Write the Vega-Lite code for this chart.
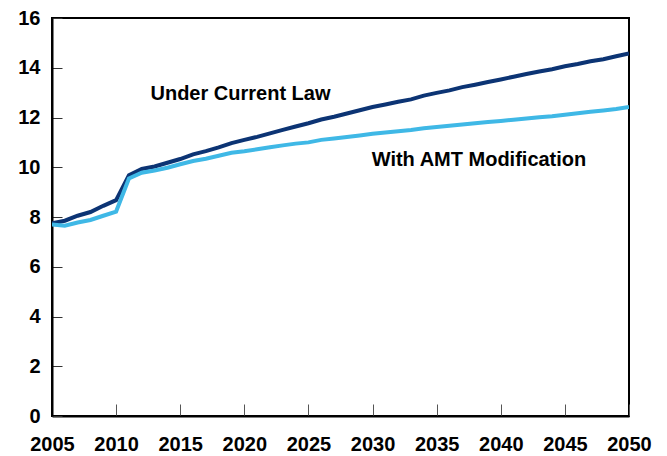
{
  "$schema": "https://vega.github.io/schema/vega-lite/v6.json",
  "width": 577,
  "height": 398,
  "autosize": {"type": "none"},
  "padding": {"left": 52, "top": 18, "right": 38, "bottom": 40},
  "background": "white",
  "config": {
    "view": {"stroke": "black", "strokeWidth": 2},
    "font": "Liberation Sans"
  },
  "datasets": {
    "series": [
      {"year": 2005, "value": 7.75, "series": "Under Current Law"},
      {"year": 2006, "value": 7.85, "series": "Under Current Law"},
      {"year": 2007, "value": 8.05, "series": "Under Current Law"},
      {"year": 2008, "value": 8.2, "series": "Under Current Law"},
      {"year": 2009, "value": 8.45, "series": "Under Current Law"},
      {"year": 2010, "value": 8.68, "series": "Under Current Law"},
      {"year": 2011, "value": 9.68, "series": "Under Current Law"},
      {"year": 2012, "value": 9.93, "series": "Under Current Law"},
      {"year": 2013, "value": 10.03, "series": "Under Current Law"},
      {"year": 2014, "value": 10.18, "series": "Under Current Law"},
      {"year": 2015, "value": 10.33, "series": "Under Current Law"},
      {"year": 2016, "value": 10.52, "series": "Under Current Law"},
      {"year": 2017, "value": 10.65, "series": "Under Current Law"},
      {"year": 2018, "value": 10.8, "series": "Under Current Law"},
      {"year": 2019, "value": 10.97, "series": "Under Current Law"},
      {"year": 2020, "value": 11.1, "series": "Under Current Law"},
      {"year": 2021, "value": 11.22, "series": "Under Current Law"},
      {"year": 2022, "value": 11.36, "series": "Under Current Law"},
      {"year": 2023, "value": 11.5, "series": "Under Current Law"},
      {"year": 2024, "value": 11.64, "series": "Under Current Law"},
      {"year": 2025, "value": 11.77, "series": "Under Current Law"},
      {"year": 2026, "value": 11.92, "series": "Under Current Law"},
      {"year": 2027, "value": 12.03, "series": "Under Current Law"},
      {"year": 2028, "value": 12.16, "series": "Under Current Law"},
      {"year": 2029, "value": 12.29, "series": "Under Current Law"},
      {"year": 2030, "value": 12.42, "series": "Under Current Law"},
      {"year": 2031, "value": 12.52, "series": "Under Current Law"},
      {"year": 2032, "value": 12.63, "series": "Under Current Law"},
      {"year": 2033, "value": 12.73, "series": "Under Current Law"},
      {"year": 2034, "value": 12.88, "series": "Under Current Law"},
      {"year": 2035, "value": 12.99, "series": "Under Current Law"},
      {"year": 2036, "value": 13.09, "series": "Under Current Law"},
      {"year": 2037, "value": 13.22, "series": "Under Current Law"},
      {"year": 2038, "value": 13.32, "series": "Under Current Law"},
      {"year": 2039, "value": 13.43, "series": "Under Current Law"},
      {"year": 2040, "value": 13.53, "series": "Under Current Law"},
      {"year": 2041, "value": 13.64, "series": "Under Current Law"},
      {"year": 2042, "value": 13.75, "series": "Under Current Law"},
      {"year": 2043, "value": 13.85, "series": "Under Current Law"},
      {"year": 2044, "value": 13.94, "series": "Under Current Law"},
      {"year": 2045, "value": 14.06, "series": "Under Current Law"},
      {"year": 2046, "value": 14.15, "series": "Under Current Law"},
      {"year": 2047, "value": 14.26, "series": "Under Current Law"},
      {"year": 2048, "value": 14.34, "series": "Under Current Law"},
      {"year": 2049, "value": 14.46, "series": "Under Current Law"},
      {"year": 2050, "value": 14.58, "series": "Under Current Law"},
      {"year": 2005, "value": 7.7, "series": "With AMT Modification"},
      {"year": 2006, "value": 7.65, "series": "With AMT Modification"},
      {"year": 2007, "value": 7.78, "series": "With AMT Modification"},
      {"year": 2008, "value": 7.88, "series": "With AMT Modification"},
      {"year": 2009, "value": 8.05, "series": "With AMT Modification"},
      {"year": 2010, "value": 8.22, "series": "With AMT Modification"},
      {"year": 2011, "value": 9.55, "series": "With AMT Modification"},
      {"year": 2012, "value": 9.78, "series": "With AMT Modification"},
      {"year": 2013, "value": 9.87, "series": "With AMT Modification"},
      {"year": 2014, "value": 9.98, "series": "With AMT Modification"},
      {"year": 2015, "value": 10.12, "series": "With AMT Modification"},
      {"year": 2016, "value": 10.25, "series": "With AMT Modification"},
      {"year": 2017, "value": 10.34, "series": "With AMT Modification"},
      {"year": 2018, "value": 10.46, "series": "With AMT Modification"},
      {"year": 2019, "value": 10.58, "series": "With AMT Modification"},
      {"year": 2020, "value": 10.64, "series": "With AMT Modification"},
      {"year": 2021, "value": 10.72, "series": "With AMT Modification"},
      {"year": 2022, "value": 10.8, "series": "With AMT Modification"},
      {"year": 2023, "value": 10.88, "series": "With AMT Modification"},
      {"year": 2024, "value": 10.95, "series": "With AMT Modification"},
      {"year": 2025, "value": 11.0, "series": "With AMT Modification"},
      {"year": 2026, "value": 11.1, "series": "With AMT Modification"},
      {"year": 2027, "value": 11.16, "series": "With AMT Modification"},
      {"year": 2028, "value": 11.22, "series": "With AMT Modification"},
      {"year": 2029, "value": 11.28, "series": "With AMT Modification"},
      {"year": 2030, "value": 11.35, "series": "With AMT Modification"},
      {"year": 2031, "value": 11.4, "series": "With AMT Modification"},
      {"year": 2032, "value": 11.45, "series": "With AMT Modification"},
      {"year": 2033, "value": 11.5, "series": "With AMT Modification"},
      {"year": 2034, "value": 11.57, "series": "With AMT Modification"},
      {"year": 2035, "value": 11.62, "series": "With AMT Modification"},
      {"year": 2036, "value": 11.67, "series": "With AMT Modification"},
      {"year": 2037, "value": 11.72, "series": "With AMT Modification"},
      {"year": 2038, "value": 11.77, "series": "With AMT Modification"},
      {"year": 2039, "value": 11.82, "series": "With AMT Modification"},
      {"year": 2040, "value": 11.86, "series": "With AMT Modification"},
      {"year": 2041, "value": 11.91, "series": "With AMT Modification"},
      {"year": 2042, "value": 11.96, "series": "With AMT Modification"},
      {"year": 2043, "value": 12.01, "series": "With AMT Modification"},
      {"year": 2044, "value": 12.05, "series": "With AMT Modification"},
      {"year": 2045, "value": 12.11, "series": "With AMT Modification"},
      {"year": 2046, "value": 12.17, "series": "With AMT Modification"},
      {"year": 2047, "value": 12.23, "series": "With AMT Modification"},
      {"year": 2048, "value": 12.28, "series": "With AMT Modification"},
      {"year": 2049, "value": 12.34, "series": "With AMT Modification"},
      {"year": 2050, "value": 12.42, "series": "With AMT Modification"}
    ],
    "labels": [
      {"year": 2019.7, "value": 12.95, "label": "Under Current Law"},
      {"year": 2038.3, "value": 10.3, "label": "With AMT Modification"}
    ]
  },
  "layer": [
    {
      "data": {"name": "series"},
      "mark": {"type": "line", "strokeWidth": 4, "clip": true},
      "encoding": {
        "x": {
          "field": "year", "type": "quantitative",
          "scale": {"domain": [2005, 2050], "nice": false, "zero": false},
          "axis": {
            "title": null, "values": [2005, 2010, 2015, 2020, 2025, 2030, 2035, 2040, 2045, 2050],
            "format": "d", "grid": false,
            "domainColor": "black", "domainWidth": 2,
            "tickColor": "#555555", "tickWidth": 1, "tickSize": -12,
            "labelFont": "Liberation Sans", "labelFontWeight": "bold", "labelFontSize": 20,
            "labelColor": "black", "labelPadding": 30, "labelFlush": false
          }
        },
        "y": {
          "field": "value", "type": "quantitative",
          "scale": {"domain": [0, 16], "nice": false},
          "axis": {
            "title": null, "values": [0, 2, 4, 6, 8, 10, 12, 14, 16],
            "grid": false,
            "domainColor": "black", "domainWidth": 2,
            "tickColor": "#333333", "tickWidth": 1, "tickSize": -10,
            "labelFont": "Liberation Sans", "labelFontWeight": "bold", "labelFontSize": 20,
            "labelColor": "black", "labelPadding": 22, "labelFlush": false
          }
        },
        "color": {
          "field": "series", "type": "nominal",
          "scale": {"domain": ["Under Current Law", "With AMT Modification"], "range": ["#0c3474", "#3fb8e6"]},
          "legend": null
        }
      }
    },
    {
      "data": {"name": "labels"},
      "mark": {"type": "text", "font": "Liberation Sans", "fontWeight": "bold", "fontSize": 20, "color": "black", "align": "center", "baseline": "middle"},
      "encoding": {
        "x": {"field": "year", "type": "quantitative"},
        "y": {"field": "value", "type": "quantitative"},
        "text": {"field": "label"}
      }
    }
  ]
}
